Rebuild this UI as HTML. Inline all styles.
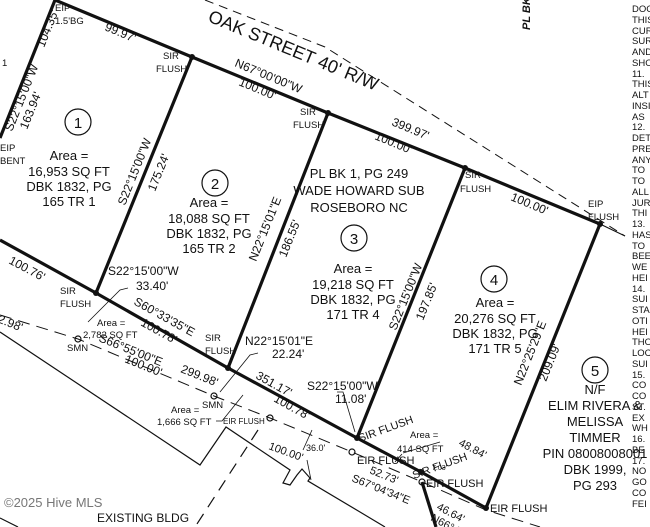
<!DOCTYPE html>
<html><head><meta charset="utf-8"><style>
html,body{margin:0;padding:0;background:#fff;}
svg{display:block;font-family:"Liberation Sans",Arial,sans-serif;fill:#111;}
.n{font-size:9.5px;}
</style></head><body>
<svg width="650" height="527" viewBox="0 0 650 527" xmlns="http://www.w3.org/2000/svg">
<g fill="none" stroke="#111">
<polyline points="205,0 325,47 625,236" stroke-width="1" stroke-dasharray="9,6"/>
<line x1="600" y1="224" x2="625" y2="236" stroke-width="1"/>
<g stroke-width="3.2" stroke-linejoin="round">
<polyline points="55,0 192,57 328,113 465,168 600,224"/>
<line x1="55" y1="0" x2="0" y2="138"/>
<line x1="192" y1="57" x2="96" y2="293"/>
<line x1="328" y1="113" x2="228" y2="368"/>
<line x1="465" y1="168" x2="357" y2="438"/>
<line x1="600" y1="224" x2="486" y2="508"/>
<polyline points="0,240 96,293 228,368 357,438 421,472 486,508"/>
<line x1="422" y1="482" x2="436" y2="527"/>
</g>
<polyline points="0,315 78,339 214,396 270,418 352,452 422,482 486,510 540,527" stroke-width="1" stroke-dasharray="12,7"/>
<polyline points="0,332 200,465 226,427 290,470 283,483 290,485 297,475 302,469 310,478 308,481 360,512 385,527" stroke-width="1.2"/>
<line x1="0" y1="518" x2="18" y2="527" stroke-width="1.2"/>
<line x1="258" y1="430" x2="195" y2="527" stroke-width="1.2" stroke-dasharray="12,8"/>
<polyline points="128,288 120,290 88,322" stroke-width="0.8"/>
<polyline points="258,353 250,355 220,392" stroke-width="0.8"/>
<polyline points="216,421 222,421 243,395" stroke-width="0.8"/>
<polyline points="337,392 343,392 355,432" stroke-width="0.8"/>
<line x1="403" y1="453" x2="440" y2="442" stroke-width="0.8"/>
<line x1="402" y1="454" x2="395" y2="462" stroke-width="0.8"/>
<line x1="312" y1="430" x2="303" y2="450" stroke-width="0.8"/>
<line x1="307" y1="460" x2="311" y2="480" stroke-width="0.8"/>
<g stroke-width="1.2">
<circle cx="78" cy="122" r="13"/>
<circle cx="215" cy="183" r="13"/>
<circle cx="354" cy="238" r="13"/>
<circle cx="494" cy="279" r="13"/>
<circle cx="595" cy="370" r="13"/>
</g>
<g stroke-width="1.2">
<circle cx="78" cy="339" r="3"/>
<circle cx="214" cy="396" r="3"/>
<circle cx="270" cy="418" r="3"/>
<circle cx="352" cy="452" r="3"/>
<circle cx="422" cy="482" r="3"/>
</g>
</g>
<g fill="#111">
<circle cx="192" cy="57" r="3"/><circle cx="328" cy="113" r="3"/><circle cx="465" cy="168" r="3"/>
<circle cx="600" cy="224" r="3"/><circle cx="96" cy="293" r="3"/><circle cx="228" cy="368" r="3"/>
<circle cx="357" cy="438" r="3"/><circle cx="421" cy="472" r="3"/><circle cx="486" cy="508" r="3"/>
</g>
<g font-size="15" text-anchor="middle">
<text x="78" y="128">1</text><text x="215" y="189">2</text><text x="354" y="244">3</text><text x="494" y="285">4</text><text x="595" y="376">5</text>
</g>
<g font-size="13" text-anchor="middle">
<text x="69" y="160">Area =</text><text x="69" y="176">16,953 SQ FT</text><text x="69" y="191">DBK 1832, PG</text><text x="69" y="206">165 TR 1</text>
<text x="209" y="207">Area =</text><text x="209" y="223">18,088 SQ FT</text><text x="209" y="238">DBK 1832, PG</text><text x="209" y="253">165 TR 2</text>
<text x="359" y="178">PL BK 1, PG 249</text><text x="359" y="195">WADE HOWARD SUB</text><text x="359" y="212">ROSEBORO NC</text>
<text x="353" y="273">Area =</text><text x="353" y="289">19,218 SQ FT</text><text x="353" y="304">DBK 1832, PG</text><text x="353" y="319">171 TR 4</text>
<text x="495" y="307">Area =</text><text x="495" y="323">20,276 SQ FT</text><text x="495" y="338">DBK 1832, PG</text><text x="495" y="353">171 TR 5</text>
<text x="595" y="394">N/F</text><text x="595" y="410">ELIM RIVERA &amp;</text><text x="595" y="426">MELISSA</text><text x="595" y="442">TIMMER</text><text x="595" y="458">PIN 08008008001</text><text x="595" y="474">DBK 1999,</text><text x="595" y="490">PG 293</text>
</g>
<text font-size="18" transform="translate(207,21) rotate(22.5)">OAK STREET 40' R/W</text>
<text font-size="11" font-weight="bold" font-style="italic" transform="translate(530,30) rotate(-90)">PL BK</text>
<g font-size="9.5">
<text x="55" y="11">EIP</text><text x="55" y="24">1.5'BG</text>
<text x="163" y="59">SIR</text><text x="156" y="72">FLUSH</text>
<text x="300" y="115">SIR</text><text x="293" y="128">FLUSH</text>
<text x="465" y="178">SIR</text><text x="460" y="192">FLUSH</text>
<text x="588" y="207">EIP</text><text x="588" y="220">FLUSH</text>
<text x="0" y="151">EIP</text><text x="0" y="164">BENT</text>
<text x="60" y="294">SIR</text><text x="60" y="307">FLUSH</text>
<text x="205" y="341">SIR</text><text x="205" y="354">FLUSH</text>
<text x="67" y="351">SMN</text><text x="202" y="408">SMN</text>
<text x="97" y="326">Area =</text><text x="83" y="338">2,782 SQ FT</text>
<text x="171" y="413">Area =</text><text x="157" y="425">1,666 SQ FT</text>
<text x="223" y="424" font-size="8">EIR FLUSH</text>
<text x="410" y="438">Area =</text><text x="397" y="452">414 SQ FT</text>
<text x="2" y="66">1</text>
</g>
<g font-size="12">
<text x="108" y="275">S22°15'00"W</text><text x="136" y="290">33.40'</text>
<text x="245" y="345">N22°15'01"E</text><text x="272" y="358">22.24'</text>
<text x="307" y="390">S22°15'00"W</text><text x="335" y="403">11.08'</text>
</g>
<g font-size="11">
<text x="268" y="449" transform="rotate(20 268 449)">100.00'</text>
<text x="306" y="451" font-size="9">36.0'</text>
<text x="360" y="442" transform="rotate(-20 360 442)">SIR FLUSH</text>
<text x="357" y="464">EIR FLUSH</text>
<text x="414" y="479" transform="rotate(-20 414 479)">SIR FLUSH</text>
<text x="432" y="470" font-size="7">7.03'</text>
<text x="426" y="487">EIR FLUSH</text>
<text x="490" y="512">EIR FLUSH</text>
<text x="458" y="445" transform="rotate(28 458 445)">48.84'</text>
<text x="369" y="473" transform="rotate(22 369 473)">52.73'</text>
<text x="351" y="481" transform="rotate(22 351 481)">S67°04'34"E</text>
<text x="436" y="509" transform="rotate(28 436 509)">46.64'</text>
<text x="430" y="520" transform="rotate(28 430 520)">N66°42'</text>
</g>
<g font-size="12">
<text x="104" y="30" transform="rotate(22.5 104 30)">99.97'</text>
<text x="234" y="66" transform="rotate(22.5 234 66)">N67°00'00"W</text>
<text x="238" y="85" transform="rotate(22.5 238 85)">100.00'</text>
<text x="391" y="125" transform="rotate(22.5 391 125)">399.97'</text>
<text x="374" y="139" transform="rotate(22.5 374 139)">100.00'</text>
<text x="510" y="200" transform="rotate(22.5 510 200)">100.00'</text>
<text x="44" y="48" transform="rotate(-68 44 48)">104.35'</text>
<text x="12" y="132" transform="rotate(-68 12 132)">S22°15'00"W</text>
<text x="27" y="130" transform="rotate(-68 27 130)">163.94'</text>
<text x="125" y="206" transform="rotate(-68 125 206)">S22°15'00"W</text>
<text x="155" y="192" transform="rotate(-68 155 192)">175.24'</text>
<text x="256" y="262" transform="rotate(-68 256 262)">N22°15'01"E</text>
<text x="286" y="258" transform="rotate(-68 286 258)">186.55'</text>
<text x="396" y="331" transform="rotate(-68 396 331)">S22°15'00"W</text>
<text x="423" y="321" transform="rotate(-68 423 321)">197.85'</text>
<text x="521" y="386" transform="rotate(-68 521 386)">N22°25'29"E</text>
<text x="546" y="382" transform="rotate(-68 546 382)">209.09'</text>
<text x="8" y="263" transform="rotate(28 8 263)">100.76'</text>
<text x="133" y="304" transform="rotate(29 133 304)">S60°33'35"E</text>
<text x="140" y="325" transform="rotate(29 140 325)">100.78'</text>
<text x="98" y="341" transform="rotate(22 98 341)">S66°55'00"E</text>
<text x="124" y="362" transform="rotate(22 124 362)">100.00'</text>
<text x="180" y="372" transform="rotate(22 180 372)">299.98'</text>
<text x="255" y="378" transform="rotate(29 255 378)">351.17'</text>
<text x="273" y="401" transform="rotate(29 273 401)">100.78'</text>
<text x="-3" y="322" transform="rotate(22 -3 322)">2.98'</text>
</g>
<text x="4" y="507" font-size="13" fill="#777">©2025 Hive MLS</text>
<text x="97" y="522" font-size="12">EXISTING BLDG</text>
<g class="n">
<text x="632" y="12">DOC</text><text x="632" y="23">THIS</text><text x="632" y="34">CUR</text><text x="632" y="44">SUR</text><text x="632" y="55">AND</text><text x="632" y="66">SHO</text><text x="632" y="77">11.</text><text x="632" y="87">THIS</text><text x="632" y="98">ALT</text><text x="632" y="109">INSI</text><text x="632" y="120">AS</text><text x="632" y="130">12.</text><text x="632" y="141">DET</text><text x="632" y="152">PRE</text><text x="632" y="163">ANY</text><text x="632" y="173">TO</text><text x="632" y="184">TO</text><text x="632" y="195">ALL</text><text x="632" y="206">JUR</text><text x="632" y="216">THI</text><text x="632" y="227">13.</text><text x="632" y="238">HAS</text><text x="632" y="249">TO</text><text x="632" y="259">BEE</text><text x="632" y="270">WE</text><text x="632" y="281">HEI</text><text x="632" y="292">14.</text><text x="632" y="302">SUI</text><text x="632" y="313">STA</text><text x="632" y="324">OTI</text><text x="632" y="335">HEI</text><text x="632" y="345">THO</text><text x="632" y="356">LOC</text><text x="632" y="367">SUI</text><text x="632" y="378">15.</text><text x="632" y="388">CO</text><text x="632" y="399">CO</text><text x="632" y="410">ST.</text><text x="632" y="421">EX</text><text x="632" y="431">WH</text><text x="632" y="442">16.</text><text x="632" y="453">BE</text><text x="632" y="464">17.</text><text x="632" y="474">NO</text><text x="632" y="485">GO</text><text x="632" y="496">CO</text><text x="632" y="507">FEI</text>
</g>
</svg>
</body></html>
